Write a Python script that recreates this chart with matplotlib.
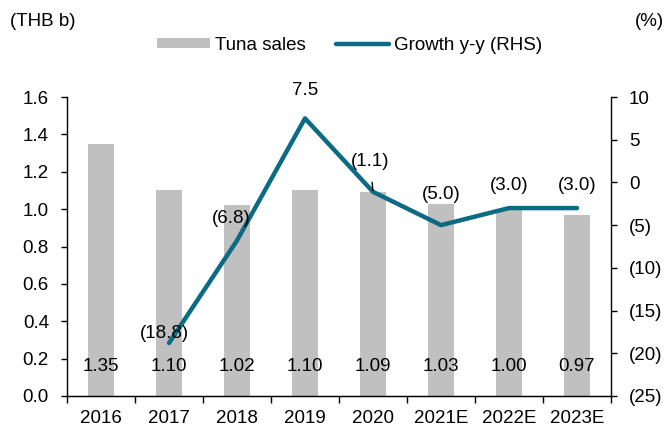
import matplotlib
matplotlib.use("Agg")
import matplotlib.pyplot as plt
import numpy as np

categories = ["2016", "2017", "2018", "2019", "2020", "2021E", "2022E", "2023E"]
sales = [1.35, 1.10, 1.02, 1.10, 1.09, 1.03, 1.00, 0.97]
growth = [None, -18.8, -6.8, 7.5, -1.1, -5.0, -3.0, -3.0]
growth_labels = [None, "(18.8)", "(6.8)", "7.5", "(1.1)", "(5.0)", "(3.0)", "(3.0)"]
left_ticks = [0.0, 0.2, 0.4, 0.6, 0.8, 1.0, 1.2, 1.4, 1.6]
right_ticks = [10, 5, 0, -5, -10, -15, -20, -25]

plt.rcParams['font.family'] = ['Liberation Sans', 'DejaVu Sans']
FS = 13.5
bar_color = '#C0C0C0'
line_color = '#0B6A84'

fig = plt.figure(figsize=(6.69, 4.30), dpi=100)
ax = fig.add_axes([67/669, 1-396/430, (611-67)/669, (396-97)/430])
ax2 = ax.twinx()

x = np.arange(len(categories))
ax.bar(x, sales, width=0.38, color=bar_color, zorder=1, label='Tuna sales')
ax.set_xlim(-0.5, len(categories)-0.5)
ax.set_ylim(0, 1.6)
ax.set_yticks(left_ticks)
ax.set_yticklabels([f"{v:.1f}" for v in left_ticks], fontsize=FS)
ax.set_xticks(x)
ax.set_xticklabels(categories, fontsize=FS)
ax.tick_params(axis='x', length=0, pad=10)
ax.set_xticks(np.arange(-0.5, len(categories)), minor=True)
ax.tick_params(axis='x', which='minor', length=5, direction='out', width=1)
ax.tick_params(axis='y', length=4, direction='out', width=1, pad=9)
ax.spines['top'].set_visible(False)
ax2.spines['top'].set_visible(False)
ax.spines['right'].set_visible(False)

for xi, v in zip(x, sales):
    ax.text(xi, 0.16, f"{v:.2f}", ha='center', va='center', fontsize=FS, zorder=5)

gx = [xi for xi, g in zip(x, growth) if g is not None]
gy = [g for g in growth if g is not None]
ax2.plot(gx, gy, color=line_color, lw=3.2, solid_capstyle='round', zorder=3, label='Growth y-y (RHS)')
ax2.set_ylim(-25, 10)
ax2.set_yticks(right_ticks)
ax2.set_yticklabels([str(v) if v >= 0 else f"({-v})" for v in right_ticks], fontsize=FS)
ax2.tick_params(axis='y', length=4, direction='out', width=1, pad=9)
ax.spines['left'].set_linewidth(1)
ax2.spines['right'].set_linewidth(1)
ax2.spines['left'].set_visible(False)
ax2.spines['bottom'].set_linewidth(1)

offsets = {1: (-3, 7), 2: (-4, 16), 3: (0, 20), 4: (-2, 22), 5: (0, 22), 6: (0, 16), 7: (0, 16)}
for i, (g, lab) in enumerate(zip(growth, growth_labels)):
    if g is None:
        continue
    dx, dy = offsets[i]
    if i == 4:
        ax2.annotate(lab, xy=(i, g), xytext=(dx, dy), textcoords='offset points',
                     ha='center', va='center', fontsize=FS,
                     arrowprops=dict(arrowstyle='-', color='black', lw=1, shrinkA=7, shrinkB=1))
    else:
        ax2.annotate(lab, xy=(i, g), xytext=(dx, dy), textcoords='offset points',
                     ha='center', va='center', fontsize=FS, zorder=6)

fig.text(10/669, 1-21/430, "(THB b)", fontsize=FS, ha='left', va='center')
fig.text(664/669, 1-21/430, "(%)", fontsize=FS, ha='right', va='center')

h1, l1 = ax.get_legend_handles_labels()
h2, l2 = ax2.get_legend_handles_labels()
fig.legend(h1 + h2, l1 + l2, loc='center', bbox_to_anchor=(0.523, 1-45/430), ncol=2,
           frameon=False, fontsize=FS, handlelength=2.8, handletextpad=0.3, columnspacing=1.6,
           handleheight=0.5)

fig.savefig("out.png", dpi=100)
